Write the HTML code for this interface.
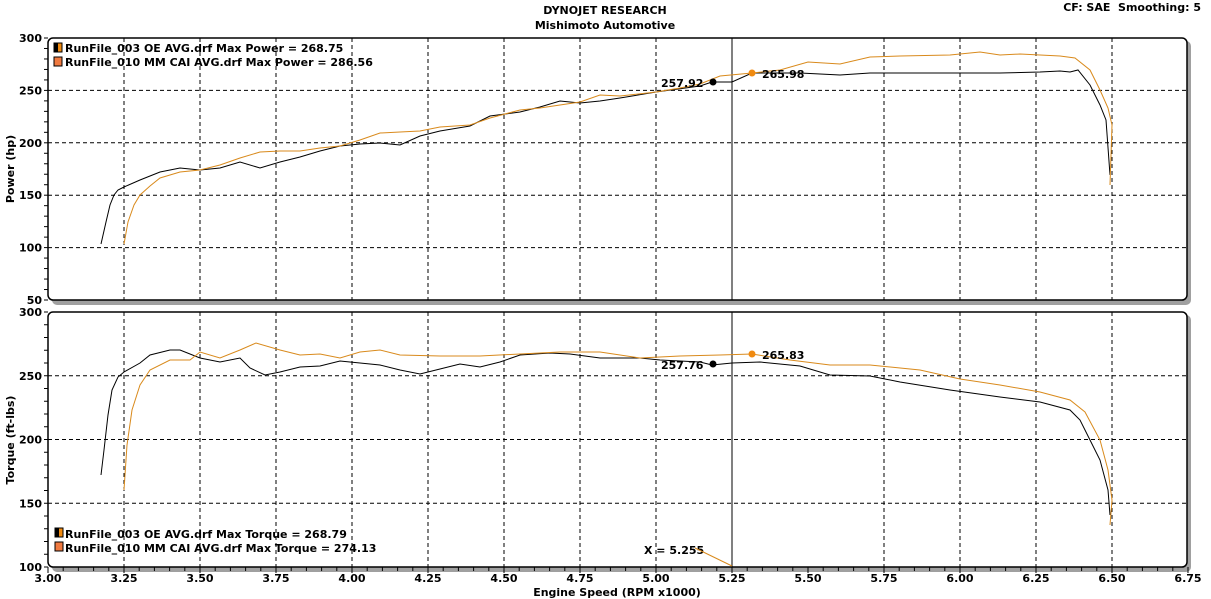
<!DOCTYPE html>
<html><head><meta charset="utf-8"><style>
html,body{margin:0;padding:0;background:#fff;}
svg{display:block;font-family:"DejaVu Sans","Liberation Sans",sans-serif;}
</style></head><body>
<svg id="s" width="1211" height="599" xmlns="http://www.w3.org/2000/svg">
<rect width="1211" height="599" fill="#fff"/>
<text x="605" y="14" font-size="11" font-weight="bold" text-anchor="middle">DYNOJET RESEARCH</text>
<text x="605" y="29" font-size="11" font-weight="bold" text-anchor="middle">Mishimoto Automotive</text>
<text x="1201" y="11" font-size="11" font-weight="bold" text-anchor="end">CF: SAE&#160;&#160;Smoothing: 5</text>
<rect x="52" y="41" width="1139" height="264" rx="5" fill="#a0a0a0"/>
<rect x="52" y="315" width="1139" height="257" rx="5" fill="#a0a0a0"/>
<rect x="48" y="38" width="1139" height="262" rx="5" fill="#fff" stroke="#000" stroke-width="1.5"/>
<rect x="48" y="312" width="1139" height="255" rx="5" fill="#fff" stroke="#000" stroke-width="1.5"/>
<g id="g"></g>
<text transform="translate(14,169) rotate(-90)" font-size="11" font-weight="bold" text-anchor="middle">Power (hp)</text>
<text transform="translate(14,440) rotate(-90)" font-size="11" font-weight="bold" text-anchor="middle">Torque (ft-lbs)</text>
<text x="617" y="596" font-size="11" font-weight="bold" text-anchor="middle">Engine Speed (RPM x1000)</text>
<line x1="732" y1="38" x2="732" y2="300" stroke="#000" stroke-width="1"/>
<line x1="732" y1="312" x2="732" y2="567" stroke="#000" stroke-width="1"/>
<polyline fill="none" stroke="#000" stroke-width="1" points="101,244 106,222 110,205 114,195 118,190 124,187 140,180 160,172 180,168 200,170 220,168 240,162 260,168 280,162 300,157 320,151 340,146 360,144 380,143 400,145 420,136 440,131 470,126 490,116 520,112 540,107 560,101 580,103 600,101 620,98 656,92 700,86 712,82 732,82 752,73 800,73 840,75 870,73 900,73 950,73 1000,73 1040,72 1060,71 1070,72 1078,70 1090,85 1100,105 1106,120 1110,175"/>
<polyline fill="none" stroke="#d98a1c" stroke-width="1" points="124,244 128,222 134,205 140,195 150,186 160,178 180,172 200,170 220,165 240,158 260,152 280,151 300,151 320,148 340,146 360,140 380,133 400,132 420,131 440,127 470,125 490,118 520,110 540,108 580,102 600,95 620,96 656,92 680,88 700,84 720,76 752,73 780,70 808,62 840,64 870,57 900,56 950,55 980,52 1000,55 1020,54 1040,55 1060,56 1075,58 1090,70 1100,90 1108,108 1112,125 1110,185"/>
<polyline fill="none" stroke="#000" stroke-width="1" points="101,475 104,450 108,415 112,390 118,377 124,372 140,363 150,355 170,350 180,350 200,358 220,362 240,358 250,368 265,375 280,372 300,367 320,366 340,361 360,363 380,365 400,370 420,374 440,369 460,364 480,367 500,362 520,355 550,353 570,354 600,358 640,358 660,360 700,362 712,365 732,363 760,362 800,366 830,375 870,376 900,382 950,390 1000,397 1040,402 1070,410 1080,420 1090,440 1100,460 1108,490 1110,515"/>
<polyline fill="none" stroke="#d98a1c" stroke-width="1" points="124,490 127,445 132,410 140,385 150,370 170,360 190,360 200,352 220,358 240,350 256,343 280,350 300,355 320,354 340,358 360,352 380,350 400,355 440,356 480,356 520,354 560,352 600,352 640,358 680,356 720,355 752,354 790,360 830,365 870,365 920,370 960,379 1000,385 1040,392 1070,400 1085,412 1100,440 1108,470 1112,500 1110,525"/>
<circle cx="713" cy="82" r="3.5" fill="#000"/>
<circle cx="752" cy="73" r="3.5" fill="#f08a10"/>
<circle cx="713" cy="364" r="3.5" fill="#000"/>
<circle cx="752" cy="354" r="3.5" fill="#f08a10"/>
<g font-size="11" font-weight="bold">
<text x="661" y="87">257.92</text><text x="762" y="78">265.98</text>
<text x="661" y="369">257.76</text><text x="762" y="359">265.83</text>
<text x="644" y="554">X = 5.255</text>
</g>
<line x1="695" y1="548" x2="732" y2="566" stroke="#d98a1c" stroke-width="1"/>
<g font-size="11" font-weight="bold">
<rect x="54" y="43" width="8" height="9" fill="#f08a10" stroke="#000"/><rect x="54" y="43" width="4" height="9" fill="#000"/>
<text x="65" y="52">RunFile_003 OE AVG.drf Max Power = 268.75</text>
<rect x="54" y="57" width="8" height="9" fill="#f07a40" stroke="#000"/>
<text x="65" y="66">RunFile_010 MM CAI AVG.drf Max Power = 286.56</text>
<rect x="55" y="528" width="8" height="9" fill="#f08a10" stroke="#000"/><rect x="55" y="528" width="4" height="9" fill="#000"/>
<text x="65" y="538">RunFile_003 OE AVG.drf Max Torque = 268.79</text>
<rect x="55" y="542" width="8" height="9" fill="#f07a40" stroke="#000"/>
<text x="65" y="552">RunFile_010 MM CAI AVG.drf Max Torque = 274.13</text>
</g>
</svg>
<script>
var g=document.getElementById('g'),h='';
function L(a,b,c,d,ex){h+='<line x1="'+a+'" y1="'+b+'" x2="'+c+'" y2="'+d+'" stroke="#000" stroke-width="1" '+(ex||'')+'/>';}
function T(x,y,t,anc){h+='<text x="'+x+'" y="'+y+'" font-size="11" font-weight="bold" text-anchor="'+anc+'">'+t+'</text>';}
var dash='stroke-dasharray="4,3"';
for(var i=1;i<15;i++){var x=48+i*76; if(i==10)continue; L(x,38,x,300,dash);L(x,312,x,567,dash);}
for(var i=0;i<=15;i++){T(48+i*76,582,(3+i*0.25).toFixed(2),'middle');}
for(var i=0;i<=75;i++){var x=48+i*15.2;L(x,567,x,i%5==0?573:571);}
for(var v=50;v<=300;v+=10){var y=300-(v-50)*262/250;L(44,y,48,y); if(v%50==0){T(42,y+4,v,'end'); if(v>50&&v<300)L(48,y,1187,y,dash);}}
for(var v=100;v<=300;v+=10){var y=567-(v-100)*255/200;L(44,y,48,y); if(v%50==0){T(42,y+4,v,'end'); if(v>100&&v<300)L(48,y,1187,y,dash);}}
g.innerHTML=h;
</script>
</body></html>
